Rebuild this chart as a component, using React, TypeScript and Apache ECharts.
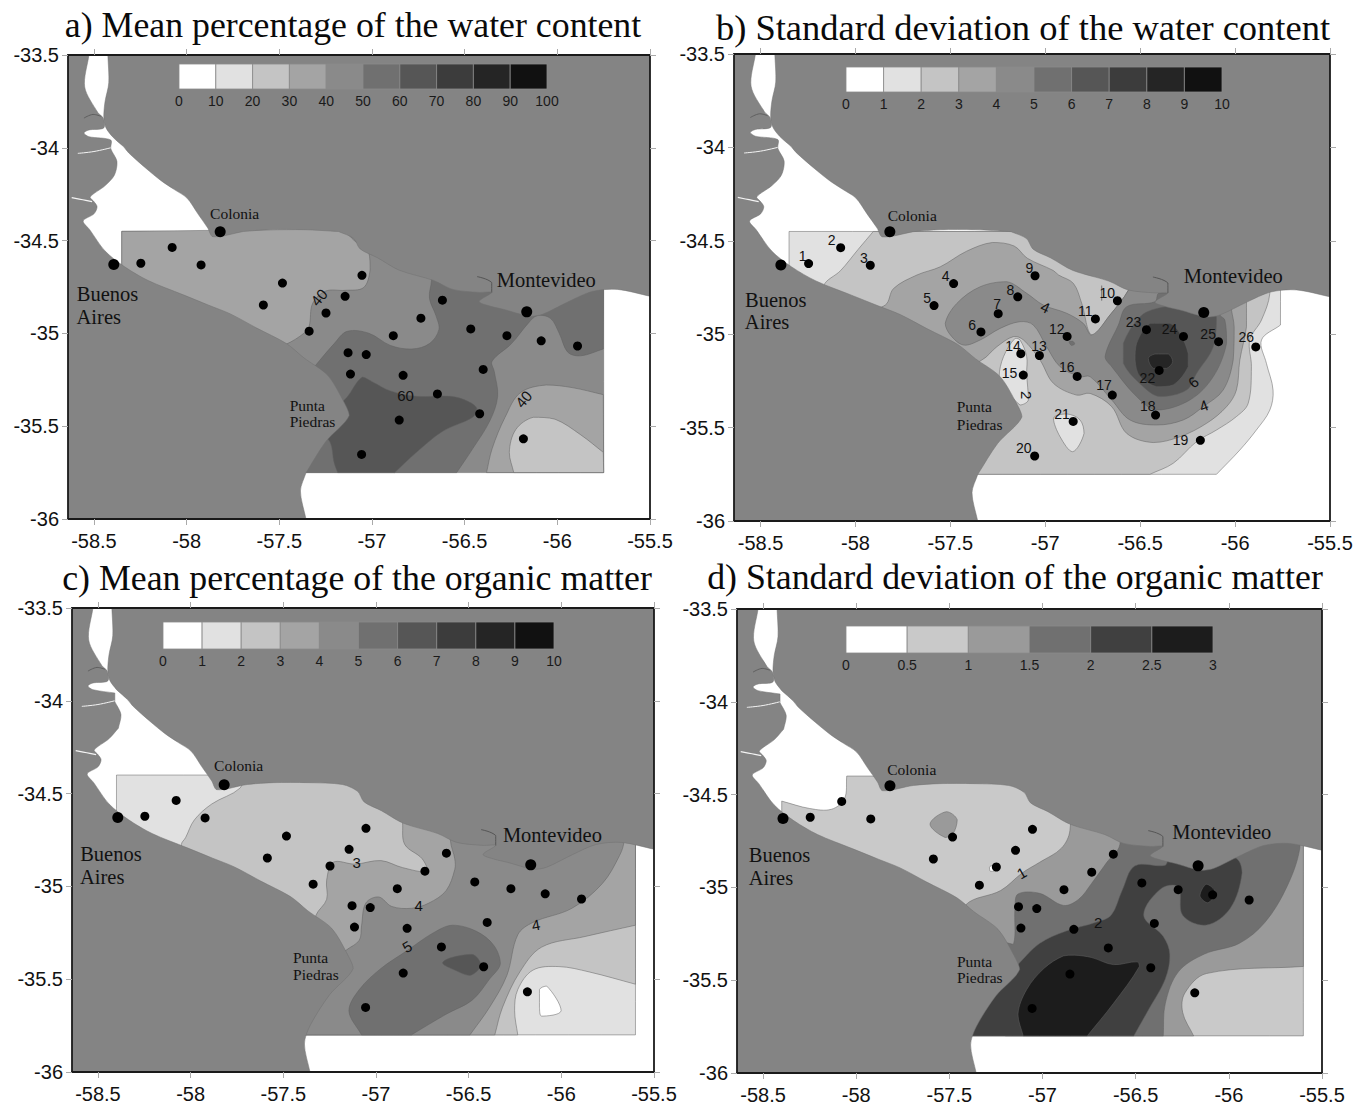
import React, { useEffect, useRef } from "react";
import * as echarts from "echarts";

type P = number[];

const TITLES = [
  "a) Mean percentage of the water content",
  "b) Standard deviation of the water content",
  "c) Mean percentage of the organic matter",
  "d) Standard deviation of the organic matter",
];
const X_TICKS = [-58.5, -58, -57.5, -57, -56.5, -56, -55.5];
const Y_TICKS = [-33.5, -34, -34.5, -35, -35.5, -36];

const LEG_A = ["0", "10", "20", "30", "40", "50", "60", "70", "80", "90", "100"];
const LEG_B = ["0", "1", "2", "3", "4", "5", "6", "7", "8", "9", "10"];
const LEG_D = ["0", "0.5", "1", "1.5", "2", "2.5", "3"];
const RAMP = ["#ffffff", "#e1e1e1", "#c4c4c4", "#a4a4a4", "#8a8a8a", "#707070", "#565656", "#3c3c3c", "#252525", "#111111"];
const RAMP_D = ["#ffffff", "#c9c9c9", "#9a9a9a", "#707070", "#404040", "#1c1c1c"];
const LAND = "#848484";

const LAND_NORTH: P[] = [
  [-58.425, -33.5], [-58.42, -33.65], [-58.44, -33.75], [-58.447, -33.83], [-58.436, -33.89], [-58.4, -33.94],
  [-58.339, -33.995], [-58.312, -34.028], [-58.22, -34.11], [-58.138, -34.177], [-58.068, -34.224], [-57.998, -34.271],
  [-57.939, -34.356], [-57.886, -34.432], [-57.858, -34.479], [-57.694, -34.451], [-57.554, -34.441], [-57.368, -34.441],
  [-57.181, -34.451], [-57.099, -34.488], [-57.064, -34.545], [-56.971, -34.592], [-56.854, -34.659], [-56.667, -34.715],
  [-56.564, -34.763], [-56.422, -34.779], [-56.354, -34.779], [-56.422, -34.828], [-56.359, -34.854], [-56.291, -34.87],
  [-56.149, -34.908], [-56.08, -34.897], [-55.938, -34.828], [-55.812, -34.774], [-55.675, -34.763], [-55.5, -34.8], [-55.5, -33.5],
];
const LAND_SOUTH: P[] = [
  [-58.527, -33.5], [-58.55, -33.672], [-58.479, -33.81], [-58.45, -33.84], [-58.447, -33.893], [-58.527, -33.904],
  [-58.554, -33.92], [-58.527, -33.94], [-58.409, -33.958], [-58.409, -34.005],
  [-58.376, -34.073], [-58.39, -34.148], [-58.441, -34.205], [-58.52, -34.265], [-58.5, -34.29],
  [-58.483, -34.318], [-58.5, -34.356], [-58.558, -34.394], [-58.523, -34.441], [-58.441, -34.555], [-58.336, -34.64],
  [-58.208, -34.715], [-58.021, -34.791], [-57.881, -34.848], [-57.764, -34.895], [-57.624, -34.97], [-57.461, -35.055],
  [-57.368, -35.131], [-57.239, -35.226], [-57.158, -35.358], [-57.123, -35.443], [-57.251, -35.585], [-57.356, -35.751],
  [-57.386, -35.849], [-57.356, -36], [-58.64, -36], [-58.64, -33.5],
];
const INLET: P[] = [[-56.433, -34.694], [-56.354, -34.726], [-56.354, -34.779]];
const CHANNEL_1: P[] = [[-58.587, -34.03], [-58.5, -34.02], [-58.41, -34.0]];
const CHANNEL_2: P[] = [[-58.62, -34.268], [-58.56, -34.28], [-58.51, -34.29]];
const CREEK: P[] = [[-58.554, -33.84], [-58.505, -33.82], [-58.463, -33.83]];

const STATIONS: P[] = [
  [-58.247, -34.622], [-58.078, -34.537], [-57.922, -34.631], [-57.483, -34.729], [-57.586, -34.847], [-57.339, -34.988],
  [-57.248, -34.89], [-57.145, -34.8], [-57.054, -34.687], [-56.62, -34.821], [-56.736, -34.918], [-56.885, -35.012],
  [-57.031, -35.114], [-57.129, -35.104], [-57.116, -35.219], [-56.832, -35.226], [-56.647, -35.326], [-56.419, -35.433],
  [-56.183, -35.568], [-57.056, -35.652], [-56.853, -35.467], [-56.4, -35.194], [-56.467, -34.976], [-56.272, -35.012],
  [-56.087, -35.04], [-55.891, -35.068],
];
const CITIES: P[] = [[-58.393, -34.629], [-57.819, -34.452], [-56.165, -34.884]];

// panel a
const A_40: P[] = [[-58.35, -34.45], [-55.75, -34.45], [-55.75, -35.75], [-58.35, -35.75]];
const A_30W: P[] = [[-58.35, -34.45], [-57.18, -34.44], [-57.087, -34.507], [-57.017, -34.564], [-57.01, -34.658], [-57.045, -34.753], [-57.145, -34.768], [-57.25, -34.772], [-57.32, -34.838], [-57.339, -34.961], [-57.367, -34.999], [-57.465, -35.059], [-57.6, -35.1], [-58.35, -34.8]];
const A_50: P[] = [[-56.68, -34.6], [-56.679, -34.715], [-56.69, -34.81], [-56.655, -34.904], [-56.639, -34.98], [-56.69, -35.055], [-56.784, -35.084], [-56.9, -35.065], [-57.017, -34.999], [-57.134, -34.989], [-57.204, -35.055], [-57.309, -35.178], [-57.45, -35.35], [-57.45, -35.75], [-56.543, -35.75], [-56.457, -35.622], [-56.364, -35.471], [-56.322, -35.339], [-56.34, -35.206], [-56.352, -35.15], [-56.247, -35.055], [-56.154, -34.942], [-56.107, -34.904], [-56.037, -34.919], [-55.99, -34.999], [-55.943, -35.102], [-55.874, -35.121], [-55.752, -35.084], [-55.75, -34.6]];
const A_60: P[] = [[-57.052, -35.235], [-57.14, -35.35], [-57.3, -35.5], [-57.227, -35.584], [-57.204, -35.698], [-57.185, -35.75], [-56.877, -35.75], [-56.76, -35.641], [-56.62, -35.528], [-56.457, -35.452], [-56.434, -35.405], [-56.48, -35.367], [-56.574, -35.339], [-56.76, -35.339], [-56.9, -35.31], [-56.994, -35.263]];
const A_30E: P[] = [[-56.382, -35.75], [-56.352, -35.622], [-56.282, -35.452], [-56.2, -35.32], [-56.06, -35.278], [-55.92, -35.292], [-55.752, -35.33], [-55.75, -35.75]];
const A_20: P[] = [[-56.235, -35.75], [-56.259, -35.641], [-56.224, -35.518], [-56.13, -35.452], [-56.013, -35.462], [-55.873, -35.547], [-55.752, -35.641], [-55.75, -35.75]];

// panel b
const B_1: P[] = [[-58.35, -34.45], [-55.76, -34.45], [-55.761, -34.951], [-55.861, -35.031], [-55.835, -35.156], [-55.8, -35.299], [-55.817, -35.406], [-55.888, -35.513], [-55.975, -35.62], [-56.098, -35.75], [-58.35, -35.75]];
const B_2: P[] = [[-57.906, -34.45], [-57.986, -34.546], [-58.078, -34.659], [-58.169, -34.743], [-58.2, -35.0], [-57.6, -35.75], [-56.449, -35.75], [-56.326, -35.691], [-56.203, -35.575], [-56.098, -35.513], [-55.993, -35.441], [-55.931, -35.37], [-55.914, -35.174], [-55.923, -35.031], [-55.861, -34.924], [-55.817, -34.781], [-55.82, -34.45]];
const B_3: P[] = [[-57.843, -34.844], [-57.799, -34.755], [-57.676, -34.683], [-57.553, -34.639], [-57.415, -34.556], [-57.278, -34.509], [-57.164, -34.528], [-57.095, -34.593], [-56.958, -34.659], [-56.93, -34.683], [-56.852, -34.728], [-56.808, -34.835], [-56.755, -35.004], [-56.659, -34.897], [-56.562, -34.764], [-56.5, -34.6], [-56.1, -34.6], [-55.94, -34.826], [-55.94, -34.96], [-55.975, -35.138], [-55.993, -35.299], [-56.045, -35.388], [-56.15, -35.477], [-56.291, -35.549], [-56.431, -35.58], [-56.571, -35.531], [-56.65, -35.388], [-56.764, -35.317], [-56.835, -35.326], [-56.957, -35.263], [-57.028, -35.138], [-57.115, -35.031], [-57.168, -35.013], [-57.255, -35.067], [-57.334, -35.138], [-57.5, -35.2], [-58.0, -34.9]];
const B_4: P[] = [[-57.527, -34.942], [-57.466, -34.835], [-57.343, -34.746], [-57.203, -34.719], [-57.098, -34.781], [-57.01, -34.844], [-56.887, -34.888], [-56.8, -34.942], [-56.755, -35.004], [-56.659, -34.897], [-56.562, -34.764], [-56.56, -34.72], [-56.03, -34.8], [-56.019, -34.871], [-56.005, -34.96], [-56.01, -35.138], [-56.063, -35.299], [-56.168, -35.388], [-56.273, -35.459], [-56.413, -35.486], [-56.554, -35.459], [-56.65, -35.352], [-56.764, -35.227], [-56.817, -35.227], [-56.922, -35.174], [-56.993, -35.067], [-57.063, -34.951], [-57.133, -34.933], [-57.238, -34.969], [-57.343, -35.031], [-57.431, -35.058], [-57.5, -35.004]];
const B_5: P[] = [[-56.422, -34.826], [-56.571, -34.853], [-56.615, -34.951], [-56.685, -35.12], [-56.65, -35.174], [-56.519, -35.334], [-56.413, -35.406], [-56.238, -35.352], [-56.115, -35.227], [-56.045, -35.049], [-56.054, -34.924], [-56.08, -34.897], [-56.1, -34.8], [-56.4, -34.78]];
const B_5S: P[] = [[-56.875, -35.04], [-56.855, -35.038], [-56.845, -35.052], [-56.862, -35.06]];
const B_6: P[] = [[-56.413, -34.862], [-56.501, -34.906], [-56.589, -35.049], [-56.589, -35.156], [-56.484, -35.281], [-56.396, -35.334], [-56.256, -35.299], [-56.203, -35.21], [-56.115, -35.067], [-56.098, -34.906], [-56.3, -34.85]];
const B_7: P[] = [[-56.448, -34.942], [-56.519, -35.049], [-56.527, -35.138], [-56.501, -35.227], [-56.413, -35.281], [-56.326, -35.272], [-56.247, -35.174], [-56.247, -35.103], [-56.291, -34.995], [-56.343, -34.942]];
const B_8: P[] = [[-56.457, -35.129], [-56.422, -35.106], [-56.352, -35.106], [-56.329, -35.147], [-56.361, -35.183], [-56.431, -35.183]];
const B_I15: P[] = [[-57.159, -35.022], [-57.22, -35.12], [-57.243, -35.227], [-57.133, -35.379], [-57.089, -35.352], [-57.098, -35.21], [-57.098, -35.12], [-57.133, -35.031]];
const B_I21: P[] = [[-56.957, -35.45], [-56.887, -35.427], [-56.817, -35.459], [-56.796, -35.531], [-56.856, -35.629], [-56.922, -35.549]];
const B_LINE: P[] = [[-56.703, -34.74], [-56.703, -34.82]];

// panel c
const C_1: P[] = [[-58.4, -34.4], [-55.6, -34.4], [-55.6, -35.8], [-58.4, -35.8]];
const C_2: P[] = [[-57.72, -34.4], [-57.734, -34.471], [-57.886, -34.556], [-57.98, -34.642], [-58.027, -34.737], [-58.05, -34.775], [-58.05, -35.1], [-57.45, -35.8], [-56.235, -35.8], [-56.252, -35.67], [-56.235, -35.556], [-56.153, -35.451], [-56.013, -35.432], [-55.849, -35.461], [-55.6, -35.527], [-55.6, -34.4]];
const C_3: P[] = [[-56.856, -34.4], [-56.856, -34.671], [-56.844, -34.775], [-56.751, -34.851], [-56.727, -34.918], [-56.856, -34.899], [-56.973, -34.861], [-57.113, -34.88], [-57.231, -34.87], [-57.266, -34.966], [-57.266, -35.07], [-57.324, -35.156], [-57.35, -35.3], [-57.45, -35.8], [-56.359, -35.8], [-56.317, -35.651], [-56.224, -35.461], [-56.106, -35.327], [-55.872, -35.27], [-55.6, -35.209], [-55.6, -34.4]];
const C_4: P[] = [[-56.6, -34.5], [-56.598, -34.756], [-56.575, -34.851], [-56.575, -34.909], [-56.622, -35.023], [-56.715, -35.09], [-56.809, -35.118], [-56.915, -35.108], [-56.985, -35.057], [-57.055, -35.09], [-57.078, -35.213], [-57.09, -35.29], [-57.16, -35.343], [-57.35, -35.5], [-57.45, -35.8], [-56.493, -35.8], [-56.387, -35.651], [-56.294, -35.48], [-56.235, -35.261], [-56.153, -35.194], [-55.943, -35.118], [-55.779, -34.985], [-55.685, -34.832], [-55.662, -34.756], [-55.66, -34.5]];
const C_5: P[] = [[-56.587, -35.209], [-56.692, -35.251], [-56.832, -35.346], [-56.973, -35.442], [-57.09, -35.556], [-57.146, -35.67], [-57.078, -35.8], [-56.809, -35.8], [-56.622, -35.689], [-56.481, -35.613], [-56.387, -35.499], [-56.329, -35.417], [-56.364, -35.318], [-56.458, -35.242]];
const C_6: P[] = [[-56.641, -35.413], [-56.598, -35.385], [-56.481, -35.366], [-56.434, -35.423], [-56.493, -35.48], [-56.575, -35.451]];
const C_0: P[] = [[-56.118, -35.556], [-56.079, -35.537], [-56.001, -35.67], [-56.107, -35.699], [-56.118, -35.651]];

// panel d
const D_05: P[] = [[-58.051, -34.4], [-58.063, -34.522], [-58.133, -34.579], [-58.249, -34.575], [-58.4, -34.535], [-58.4, -35.8], [-55.6, -35.8], [-55.6, -34.4]];
const D_0S: P[] = [[-57.285, -34.89], [-57.268, -34.882], [-57.258, -34.91], [-57.28, -34.913]];
const D_1: P[] = [[-56.853, -34.4], [-56.853, -34.693], [-56.899, -34.789], [-57.016, -34.865], [-57.109, -34.922], [-57.225, -35.017], [-57.411, -35.093], [-57.5, -35.3], [-57.4, -35.8], [-56.189, -35.8], [-56.248, -35.673], [-56.236, -35.569], [-56.12, -35.464], [-55.6, -35.426], [-55.6, -34.4]];
const D_1P: P[] = [[-57.604, -34.659], [-57.516, -34.592], [-57.458, -34.636], [-57.481, -34.712], [-57.523, -34.731]];
const D_15: P[] = [[-56.585, -34.5], [-56.585, -34.77], [-56.655, -34.865], [-56.737, -34.979], [-56.806, -35.064], [-56.888, -35.097], [-57.016, -35.032], [-57.132, -35.036], [-57.148, -35.112], [-57.155, -35.302], [-57.2, -35.302], [-57.3, -35.5], [-57.2, -35.8], [-56.352, -35.8], [-56.341, -35.625], [-56.271, -35.455], [-56.131, -35.359], [-55.945, -35.302], [-55.806, -35.188], [-55.689, -34.998], [-55.619, -34.788], [-55.61, -34.5]];
const D_2: P[] = [[-56.341, -34.88], [-56.504, -34.884], [-56.573, -35.017], [-56.632, -35.15], [-56.713, -35.188], [-56.876, -35.236], [-57.016, -35.302], [-57.132, -35.416], [-57.3, -35.6], [-57.383, -35.8], [-56.51, -35.8], [-56.434, -35.664], [-56.341, -35.493], [-56.317, -35.359], [-56.352, -35.264], [-56.457, -35.15], [-56.364, -35.007], [-56.271, -34.998], [-56.248, -35.15], [-56.12, -35.203], [-55.992, -35.112], [-55.929, -34.922], [-55.957, -34.846], [-56.062, -34.826], [-56.317, -34.826]];
const D_25: P[] = [[-56.888, -35.369], [-56.992, -35.436], [-57.085, -35.55], [-57.132, -35.683], [-57.104, -35.8], [-56.76, -35.8], [-56.62, -35.626], [-56.48, -35.426], [-56.492, -35.401], [-56.62, -35.416], [-56.736, -35.378], [-56.829, -35.365]];
const D_25S: P[] = [[-56.12, -34.983], [-56.155, -35.045], [-56.113, -35.083], [-56.073, -35.026]];

const CONTOURS: [P[], string][][] = [
  [[A_40, RAMP[4]], [A_30W, RAMP[3]], [A_50, RAMP[5]], [A_60, RAMP[6]], [A_30E, RAMP[3]], [A_20, RAMP[2]]],
  [[B_1, RAMP[1]], [B_2, RAMP[2]], [B_3, RAMP[3]], [B_LINE, "none"], [B_4, RAMP[4]], [B_5, RAMP[5]], [B_5S, RAMP[5]], [B_6, RAMP[6]], [B_7, RAMP[7]], [B_8, RAMP[8]], [B_I15, RAMP[1]], [B_I21, RAMP[1]]],
  [[C_1, RAMP[1]], [C_2, RAMP[2]], [C_3, RAMP[3]], [C_4, RAMP[4]], [C_5, RAMP[5]], [C_6, RAMP[6]], [C_0, RAMP[0]]],
  [[D_05, RAMP_D[1]], [D_0S, RAMP_D[0]], [D_1, RAMP_D[2]], [D_1P, RAMP_D[2]], [D_15, RAMP_D[3]], [D_2, RAMP_D[4]], [D_25, RAMP_D[5]], [D_25S, RAMP_D[5]]],
];
const DOMAIN_LONS = [[-58.35, -55.75], [-58.35, -55.75], [-58.4, -55.6], [-58.4, -55.6]];
const DOMAIN_LATS = [[-34.45, -35.75], [-34.45, -35.75], [-34.4, -35.8], [-34.4, -35.8]];

type Ann = [string, number, number, string, number?];
const cityLabels = (pts: P[]): Ann[] => {
  const names: [string, string][] = [["Buenos", "city"], ["Aires", "city"], ["Colonia", "small"], ["Montevideo", "city"], ["Punta", "small"], ["Piedras", "small"]];
  return names.map((n, i) => [n[0], pts[i][0], pts[i][1], n[1]] as Ann);
};
const CITY_A: P[] = [[-58.427, -34.79], [-58.474, -34.914], [-57.741, -34.352], [-56.06, -34.71], [-57.349, -35.386], [-57.321, -35.477]];
const CITY_B: P[] = [[-58.42, -34.815], [-58.466, -34.935], [-57.701, -34.362], [-56.01, -34.687], [-57.374, -35.388], [-57.346, -35.482]];
const CITY_C: P[] = [[-58.43, -34.825], [-58.477, -34.947], [-57.741, -34.349], [-56.048, -34.722], [-57.353, -35.385], [-57.324, -35.474]];
const CITY_D: P[] = [[-58.412, -34.827], [-58.458, -34.948], [-57.702, -34.364], [-56.038, -34.703], [-57.365, -35.397], [-57.337, -35.487]];
const NUM_POS: P[] = [
  [-58.279, -34.584], [-58.126, -34.498], [-57.956, -34.59], [-57.525, -34.687], [-57.623, -34.807], [-57.385, -34.95],
  [-57.253, -34.837], [-57.184, -34.762], [-57.084, -34.644], [-56.674, -34.781], [-56.789, -34.877], [-56.94, -34.971],
  [-57.033, -35.065], [-57.17, -35.063], [-57.189, -35.209], [-56.887, -35.175], [-56.691, -35.273], [-56.46, -35.382],
  [-56.288, -35.568], [-57.113, -35.611], [-56.912, -35.425], [-56.462, -35.232], [-56.535, -34.935], [-56.345, -34.973],
  [-56.142, -34.997], [-55.941, -35.016],
];
const ANNS: Ann[][] = [
  [...cityLabels(CITY_A), ["40", -57.286, -34.806, "contour", 50], ["60", -56.819, -35.335, "contour", 0], ["40", -56.182, -35.354, "contour", 50]],
  [...cityLabels(CITY_B), ...NUM_POS.map((p, i) => [String(i + 1), p[0], p[1], "num"] as Ann), ["4", -56.999, -34.856, "contour", -25], ["2", -57.1, -35.326, "contour", -90], ["6", -56.22, -35.256, "contour", 40], ["4", -56.165, -35.382, "contour", 20]],
  [...cityLabels(CITY_C), ["3", -57.104, -34.87, "contour", 0], ["4", -56.769, -35.105, "contour", 0], ["4", -56.137, -35.207, "contour", 10], ["5", -56.832, -35.324, "contour", 30]],
  [...cityLabels(CITY_D), ["1", -57.113, -34.922, "contour", 30], ["2", -56.701, -35.188, "contour", 0]],
];
const FONTS: Record<string, string> = {
  city: '20.5px "Liberation Serif"',
  small: '15.5px "Liberation Serif"',
  num: '14px "Liberation Sans"',
  contour: '15px "Liberation Sans"',
};

// pixel layout of the four panels
const PANELS = [
  { l: 68, r: 650, t: 55, b: 519, tx: 348, ty: 2, fs: 35.8 },
  { l: 734, r: 1330, t: 54, b: 521, tx: 1018, ty: 4, fs: 36.5 },
  { l: 72, r: 654, t: 608, b: 1072, tx: 352, ty: 555, fs: 35.8 },
  { l: 737, r: 1322, t: 609, b: 1073, tx: 1010, ty: 554, fs: 35.8 },
];
const LEGENDS = [
  { x0: 179, x1: 547, y0: 64, y1: 89, ly: 101, labels: LEG_A, colors: RAMP },
  { x0: 846, x1: 1222, y0: 67, y1: 92, ly: 104, labels: LEG_B, colors: RAMP },
  { x0: 163, x1: 554, y0: 622, y1: 649, ly: 661, labels: LEG_B, colors: RAMP },
  { x0: 846, x1: 1213, y0: 626, y1: 653, ly: 665, labels: LEG_D, colors: RAMP_D },
];

const near = (v: number, list: number[], tol: number) => list.some((b) => Math.abs(v - b) < tol);
// a doubled vertex stays a sharp corner under the polygon's bezier smoothing
const sharpen = (pts: P[], lons: number[], lats: number[]) =>
  pts.flatMap((p) => (near(p[0], lons, 0.013) || near(p[1], lats, 0.006) ? [p, p] : [p]));

const polySeries = (i: number, raw: P[], fill: string, stroke: string, width: number, type = "polygon", smooth = 0) => {
  const pts = type === "polygon" ? sharpen(raw, [...DOMAIN_LONS[i], -58.64, -55.5], [...DOMAIN_LATS[i], -33.5, -36]) : raw;
  return {
    type: "custom",
    coordinateSystem: "cartesian2d",
    xAxisIndex: i,
    yAxisIndex: i,
    clip: true,
    silent: true,
    data: raw,
    encode: { x: 0, y: 1 },
    renderItem: (params: any, api: any) =>
      params.dataIndex === 0
        ? {
            type,
            shape: { points: pts.map((p) => api.coord(p)), smooth, smoothConstraint: [[1e6, 1e6], [-1e6, -1e6]] },
            style: { fill, stroke, lineWidth: width },
          }
        : null,
  };
};

const buildOption = () => {
  const xMin = -58.64;
  const frame = { show: true, onZero: false, lineStyle: { color: "#1a1a1a", width: 1.8 } };
  const tickStyle = { color: "#aaa", width: 1 };
  const grid: any[] = [];
  const xAxis: any[] = [];
  const yAxis: any[] = [];
  const series: any[] = [];
  const graphic: any[] = [];
  PANELS.forEach((p) => {
    grid.push({ left: p.l, top: p.t, width: p.r - p.l, height: p.b - p.t, show: false });
  });
  [0, 1].forEach((side) => {
    PANELS.forEach((_, i) => {
      const main = side === 0;
      xAxis.push({
        type: "value", gridIndex: i, min: xMin, max: -55.5, position: main ? "bottom" : "top", z: 20,
        splitLine: { show: false }, axisLine: frame,
        axisTick: { show: true, length: 6, lineStyle: tickStyle, customValues: X_TICKS },
        axisLabel: main
          ? { show: true, customValues: X_TICKS, margin: 12, fontSize: 20, color: "#111", fontFamily: "Liberation Sans", showMinLabel: true, showMaxLabel: true, hideOverlap: false }
          : { show: false },
      });
      yAxis.push({
        type: "value", gridIndex: i, min: -36, max: -33.5, position: main ? "left" : "right", z: 20,
        splitLine: { show: false }, axisLine: frame,
        axisTick: { show: true, length: 6, lineStyle: tickStyle, customValues: Y_TICKS },
        axisLabel: main
          ? { show: true, customValues: Y_TICKS, margin: 9, fontSize: 20, color: "#111", fontFamily: "Liberation Sans", showMinLabel: true, showMaxLabel: true, hideOverlap: false }
          : { show: false },
      });
    });
  });
  PANELS.forEach((_, i) => {
    CONTOURS[i].forEach(([pts, color]) => series.push(polySeries(i, pts, color, "#606060", 0.5, "polygon", 0.35)));
    series.push(polySeries(i, LAND_NORTH, LAND, "#707070", 0.5, "polygon", 0.3));
    series.push(polySeries(i, LAND_SOUTH, LAND, "#707070", 0.5, "polygon", 0.3));
    series.push(polySeries(i, INLET, "none", "#555", 1, "polyline", 0.4));
    series.push(polySeries(i, CHANNEL_1, "none", "#f4f4f4", 1, "polyline", 0.4));
    series.push(polySeries(i, CHANNEL_2, "none", "#f4f4f4", 1.2, "polyline", 0.4));
    series.push(polySeries(i, CREEK, "none", "#555", 0.8, "polyline", 0.4));
    series.push({ type: "scatter", xAxisIndex: i, yAxisIndex: i, data: STATIONS, symbolSize: 9, silent: true, itemStyle: { color: "#000", opacity: 1 } });
    series.push({ type: "scatter", xAxisIndex: i, yAxisIndex: i, data: CITIES, symbolSize: 11, silent: true, itemStyle: { color: "#000", opacity: 1 } });
    const anns = ANNS[i];
    series.push({
      type: "custom", coordinateSystem: "cartesian2d", xAxisIndex: i, yAxisIndex: i, silent: true,
      data: anns.map((a) => [a[1], a[2]]), encode: { x: 0, y: 1 },
      renderItem: (params: any, api: any) => {
        const a = anns[params.dataIndex];
        const c = api.coord([a[1], a[2]]);
        return {
          type: "text", x: c[0], y: c[1], rotation: ((a[4] || 0) * Math.PI) / 180,
          style: { text: a[0], font: FONTS[a[3]], fill: "#111", align: "center", verticalAlign: "middle" },
        };
      },
    });
  });
  LEGENDS.forEach((g) => {
    const n = g.colors.length;
    const w = (g.x1 - g.x0) / n;
    g.colors.forEach((c, k) => {
      graphic.push({ type: "rect", silent: true, z: 30, shape: { x: g.x0 + k * w, y: g.y0, width: w, height: g.y1 - g.y0 }, style: { fill: c, stroke: "#8a8a8a", lineWidth: 0.8 } });
    });
    g.labels.forEach((t, k) => {
      graphic.push({ type: "text", silent: true, z: 30, x: g.x0 + k * w, y: g.ly, style: { text: t, font: '14px "Liberation Sans"', fill: "#1a1a1a", align: "center", verticalAlign: "middle" } });
    });
  });
  const title = PANELS.map((p, i) => ({
    text: TITLES[i], left: p.tx, top: p.ty, textAlign: "center",
    textStyle: { fontFamily: "Liberation Serif", fontSize: p.fs, fontWeight: "normal", color: "#0a0a0a" },
  }));
  return { animation: false, backgroundColor: "#ffffff", title, grid, xAxis, yAxis, series, graphic: { elements: graphic } };
};

export default function App() {
  const ref = useRef<HTMLDivElement>(null);
  useEffect(() => {
    const chart = echarts.init(ref.current!, undefined, { renderer: "svg" });
    chart.setOption(buildOption() as any);
    return () => chart.dispose();
  }, []);
  return <div ref={ref} style={{ position: "absolute", left: 0, top: 0, width: 1361, height: 1109 }} />;
}
